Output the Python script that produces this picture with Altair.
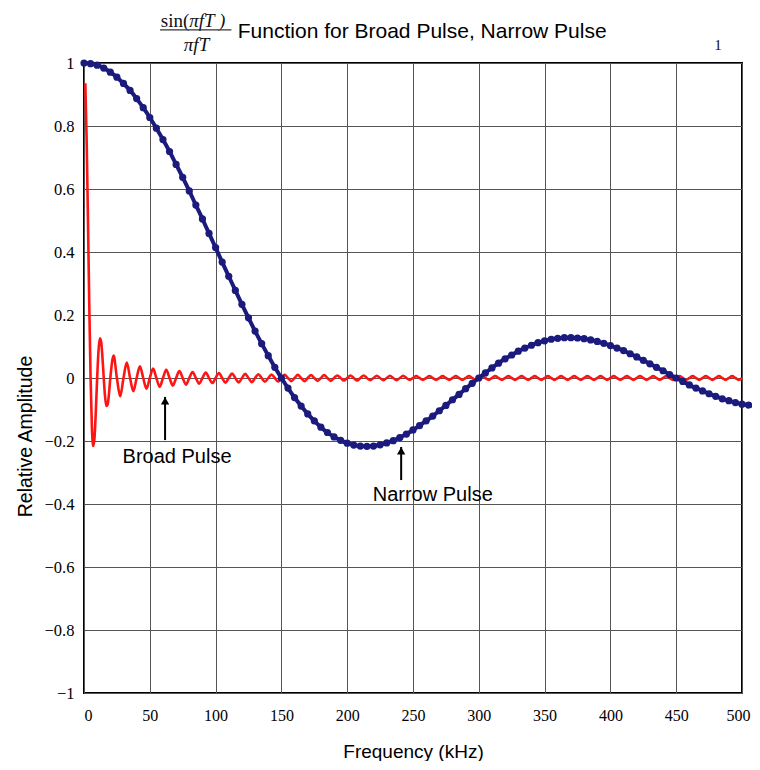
import altair as alt
import pandas as pd

# ---------------- data ----------------
x_ticks = [0, 50, 100, 150, 200, 250, 300, 350, 400, 450, 500]
y_ticks = [-1, -0.8, -0.6, -0.4, -0.2, 0, 0.2, 0.4, 0.6, 0.8, 1]

# Narrow pulse (dotted navy curve), sampled every 5 kHz from 0 to 510 kHz
narrow_freq = list(range(0, 515, 5))
narrow_amp = [
    1.000, 0.998, 0.993, 0.984, 0.971, 0.955, 0.935, 0.913, 0.887, 0.858,
    0.827, 0.793, 0.757, 0.719, 0.678, 0.637, 0.594, 0.549, 0.505, 0.459,
    0.414, 0.368, 0.323, 0.278, 0.234, 0.191, 0.149, 0.109, 0.071, 0.034,
    0.000, -0.032, -0.062, -0.089, -0.114, -0.136, -0.156, -0.173, -0.187, -0.198,
    -0.207, -0.213, -0.216, -0.217, -0.216, -0.212, -0.206, -0.199, -0.189, -0.178,
    -0.165, -0.151, -0.136, -0.121, -0.104, -0.087, -0.069, -0.052, -0.034, -0.017,
    0.000, 0.016, 0.032, 0.047, 0.061, 0.073, 0.085, 0.095, 0.104, 0.112,
    0.118, 0.123, 0.126, 0.128, 0.128, 0.127, 0.125, 0.121, 0.116, 0.110,
    0.103, 0.095, 0.087, 0.077, 0.067, 0.056, 0.045, 0.034, 0.023, 0.011,
    0.000, -0.011, -0.022, -0.032, -0.041, -0.050, -0.058, -0.066, -0.072, -0.078,
    -0.083, -0.086, -0.089,
]

# Broad pulse (red curve): first lobes every 1 kHz
broad_head_freq = list(range(1, 21))
broad_head_amp = [
    0.936, 0.757, 0.505, 0.234, 0.000, -0.156, -0.216, -0.189, -0.104, 0.000,
    0.085, 0.126, 0.116, 0.067, 0.000, -0.059, -0.089, -0.084, -0.049, 0.000,
]
# then ripple peaks at 22.5, 27.5, ... 497.5 kHz, with zero crossings between them
broad_tail_freq = [22.5 + 5 * i for i in range(96)]
broad_tail_peaks = [
    0.071, -0.058, 0.049, -0.042, 0.037, -0.034, 0.030, -0.028, 0.026, -0.024,
    0.022, -0.021, 0.019, -0.018, 0.017, -0.016, 0.016, -0.015, 0.014, -0.014,
    0.013, -0.013, 0.012, -0.012, 0.011, -0.011, 0.010, -0.010, 0.010, -0.010,
    0.009, -0.009, 0.009, -0.009, 0.008, -0.008, 0.008, -0.008, 0.008, -0.007,
    0.007, -0.007, 0.007, -0.007, 0.007, -0.006, 0.006, -0.006, 0.006, -0.006,
    0.006, -0.006, 0.006, -0.006, 0.006, -0.006, 0.006, -0.006, 0.006, -0.006,
    0.006, -0.006, 0.006, -0.006, 0.006, -0.006, 0.006, -0.006, 0.006, -0.006,
    0.006, -0.006, 0.006, -0.006, 0.006, -0.006, 0.006, -0.006, 0.006, -0.006,
    0.006, -0.006, 0.006, -0.006, 0.006, -0.006, 0.006, -0.006, 0.006, -0.006,
    0.006, -0.006, 0.006, -0.006, 0.006, -0.006,
]

# annotations (in data units)
arrow_f = [61.6, 241.0]
arrow_tip = [-0.060, -0.219]
arrow_base = [-0.197, -0.324]
label_text = ["Broad Pulse", "Narrow Pulse"]
label_f = [70.7, 265.0]
label_v = [-0.250, -0.370]

# ---------------- tables ----------------
narrow_df = pd.DataFrame({"f": narrow_freq, "v": narrow_amp})
bf, bv = list(broad_head_freq), list(broad_head_amp)
for f0, p in zip(broad_tail_freq, broad_tail_peaks):
    bf += [f0, f0 + 2.5]
    bv += [p, 0.0]
broad_df = pd.DataFrame({"f": bf, "v": bv})
arrow_df = pd.DataFrame({"f": arrow_f, "v": arrow_tip, "v2": arrow_base})
label_df = pd.DataFrame({"f": label_f, "v": label_v, "t": label_text})

SANS = "Liberation Sans"
SERIF = "Liberation Serif"

X = alt.X(
    "f:Q",
    scale=alt.Scale(domain=[0, 500], nice=False, zero=False),
    axis=alt.Axis(values=x_ticks, title="Frequency (kHz)", format="d",
                  labelOffset={"expr": "datum.value == 500 ? -4 : (datum.value == 0 ? 4 : 0)"},
                  labelFlush=False, labelFont=SERIF, labelFontSize=16,
                  labelPadding=14, titleY=64, titleBaseline="alphabetic",
                  titleFont=SANS, titleFontSize=19),
)
Y = alt.Y(
    "v:Q",
    scale=alt.Scale(domain=[-1, 1], nice=False, zero=False),
    axis=alt.Axis(values=y_ticks, title="Relative Amplitude", format="~g",
                  labelFlush=False, labelFont=SERIF, labelFontSize=16.5,
                  labelPadding=10, titleX=-49, titleY=373,
                  titleBaseline="bottom", titleFont=SANS, titleFontSize=19.5),
)

NAVY = "#1b1b7e"
RED = "#ff1414"

broad = alt.Chart(broad_df).mark_line(color=RED, strokeWidth=2.6,
                                      interpolate="monotone").encode(x=X, y=Y)
narrow_line = alt.Chart(narrow_df).mark_line(color=NAVY, strokeWidth=4,
                                             interpolate="monotone").encode(x=X, y=Y)
narrow_pts = alt.Chart(narrow_df).mark_circle(color=NAVY, size=52,
                                              opacity=1).encode(x=X, y=Y)

arrows = alt.Chart(arrow_df).mark_rule(color="black", strokeWidth=2).encode(
    x=X, y=Y, y2="v2:Q")
heads = alt.Chart(arrow_df).mark_point(shape="triangle-up", filled=True,
                                       color="black", size=70, opacity=1,
                                       yOffset=4).encode(x=X, y=Y)
labels = alt.Chart(label_df).mark_text(font=SANS, fontSize=20, color="black",
                                       align="center", baseline="middle").encode(
    x=X, y=Y, text="t:N")

title_df = pd.DataFrame({"f": [257.0], "v": [1.098],
                         "t": ["Function for Broad Pulse, Narrow Pulse"]})
title = alt.Chart(title_df).mark_text(font=SANS, fontSize=21, color="black",
                                      align="center", baseline="middle").encode(
    x=X, y=Y, text="t:N")

num_a = pd.DataFrame({"f": [80.0], "v": [1.134], "t": ["sin("]})
num_b = pd.DataFrame({"f": [80.0], "v": [1.134], "t": ["\u03c0fT )"]})
den = pd.DataFrame({"f": [85.5], "v": [1.058], "t": ["\u03c0fT"]})
one = pd.DataFrame({"f": [481.8], "v": [1.057], "t": ["1"]})
frac_line = pd.DataFrame({"f": [57.8], "f2": [112.0], "v": [1.105]})

t_num_a = alt.Chart(num_a).mark_text(font=SERIF, fontSize=19, color="#111",
                                     align="right", baseline="middle").encode(
    x=X, y=Y, text="t:N")
t_num_b = alt.Chart(num_b).mark_text(font=SERIF, fontSize=19, fontStyle="italic",
                                     color="#111", align="left",
                                     baseline="middle").encode(x=X, y=Y, text="t:N")
t_den = alt.Chart(den).mark_text(font=SERIF, fontSize=19, fontStyle="italic",
                                 color="#111", align="center",
                                 baseline="middle").encode(x=X, y=Y, text="t:N")
t_one = alt.Chart(one).mark_text(font=SERIF, fontSize=15, color="#111",
                                 align="center", baseline="middle").encode(
    x=X, y=Y, text="t:N")
t_line = alt.Chart(frac_line).mark_rule(color="#333", strokeWidth=1.2).encode(
    x=X, x2="f2:Q", y=Y)

chart = alt.layer(
    broad, narrow_line, narrow_pts, arrows, heads, labels,
    title, t_num_a, t_num_b, t_den, t_one, t_line,
).properties(
    width=658, height=630,
    autosize=alt.AutoSizeParams(type="none"),
    padding={"left": 76, "top": 55, "right": 10, "bottom": 68},
    background="white",
).configure_view(
    stroke="black", strokeWidth=2,
).configure_axis(
    grid=True, gridColor="#555", gridWidth=1, gridOpacity=1,
    domain=False, ticks=False,
    labelColor="black", titleFontWeight="normal", titleColor="black",
)

chart.save("out.html", embed_options={"renderer": "svg", "actions": False})
